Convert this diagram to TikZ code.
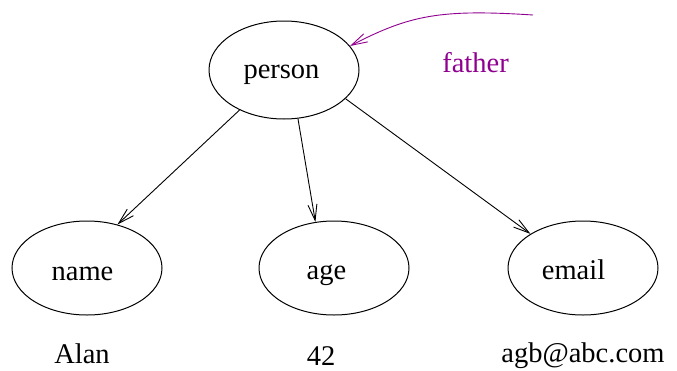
\documentclass[tikz,border=0pt]{standalone}
\usepackage{fontspec}
\setmainfont{Liberation Serif}
\usetikzlibrary{shapes.geometric,arrows.meta}
\definecolor{relcolor}{RGB}{144,0,144}
\begin{document}
\begin{tikzpicture}[x=1pt,y=-1pt,
  entity/.style={draw,ellipse,line width=1pt,inner sep=0pt,minimum width=150pt,minimum height=94pt},
  word/.style={anchor=base,inner sep=0pt,font=\fontsize{28.5}{34}\selectfont},
  link/.style={line width=0.9pt,-{Straight Barb[length=16pt,width=9pt,line width=0.9pt]}}]
\useasboundingbox (0,0) rectangle (677,370);

% record and its fields
\node[entity,minimum height=98pt] (person) at (284,70) {};
\node[entity] (name)  at (87,268)  {};
\node[entity] (age)   at (334,268) {};
\node[entity] (email) at (583,268) {};

\node[word] (personlabel) at (281.5,78) {person};
\node[word] (namelabel)   at (82.5,280) {name};
\node[word] (agelabel)    at (326.5,279) {age};
\node[word] (emaillabel)  at (573.5,279) {email};

% field values
\node[word] (alan)  at (82,363)  {Alan};
\node[word] (fortytwo) at (321,365) {42};
\node[word] (mail)  at (583,362) {agb@abc.com};

% field edges
\draw[link] (person.-138) -- (name.55);
\draw[link] (person.-74) -- (age.112);
\draw[link] (person.-25.5) -- (email.147);

% incoming relation
\coordinate (fatherstart) at (533,15);
\draw[link,relcolor] (fatherstart) .. controls (440,9) and (410,15) .. (person.20.6);
\node[word,text=relcolor] (father) at (475.5,72) {father};
\end{tikzpicture}
\end{document}
